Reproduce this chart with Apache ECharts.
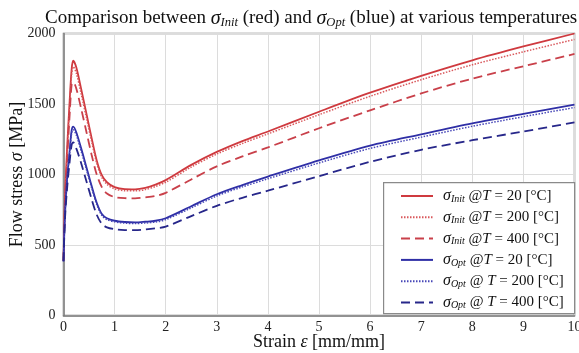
<!DOCTYPE html>
<html>
<head>
<meta charset="utf-8">
<script src="https://cdn.jsdelivr.net/npm/echarts@6/dist/echarts.min.js"></script>
<style>
html,body{margin:0;padding:0;background:#fff;}
#c{width:579px;height:353px;}
</style>
</head>
<body>
<div id="c"></div>
<script>
// Strain values (mm/mm)
var strain = [0, 0.03, 0.07, 0.12, 0.16, 0.19, 0.25, 0.35, 0.45, 0.55, 0.65, 0.75, 0.85, 1.0, 1.2, 1.4, 1.6, 1.8, 2.0, 2.5, 3, 3.5, 4, 5, 6, 7, 8, 9, 10];
// Flow stress (MPa)
var init20  = [390, 850, 1180, 1520, 1750, 1807, 1760, 1600, 1430, 1260, 1100, 995, 945, 910, 896, 895, 905, 928, 960, 1068, 1160, 1237, 1305, 1445, 1580, 1700, 1810, 1908, 2000];
var init200 = [390, 830, 1150, 1480, 1710, 1765, 1720, 1565, 1400, 1235, 1080, 980, 930, 898, 885, 884, 893, 915, 945, 1053, 1145, 1220, 1288, 1424, 1555, 1672, 1778, 1870, 1958];
var init400 = [390, 800, 1100, 1420, 1640, 1655, 1610, 1460, 1300, 1140, 1000, 910, 865, 840, 832, 831, 838, 848, 870, 965, 1058, 1128, 1192, 1328, 1455, 1575, 1680, 1768, 1855];
var opt20   = [385, 720, 960, 1170, 1315, 1340, 1300, 1180, 1050, 920, 800, 720, 690, 672, 663, 660, 665, 672, 690, 775, 860, 925, 985, 1100, 1205, 1285, 1362, 1430, 1495];
var opt200  = [385, 710, 945, 1150, 1295, 1318, 1280, 1160, 1033, 905, 788, 710, 680, 664, 655, 652, 656, 663, 680, 763, 848, 912, 970, 1082, 1185, 1265, 1342, 1410, 1475];
var opt400  = [385, 690, 900, 1090, 1210, 1228, 1185, 1075, 950, 825, 715, 650, 625, 612, 606, 605, 610, 618, 630, 705, 778, 835, 885, 988, 1090, 1175, 1243, 1305, 1370];
var xTicks = [0, 1, 2, 3, 4, 5, 6, 7, 8, 9, 10];
var yTicks = [0, 500, 1000, 1500, 2000];

var seriesNames = ['Init20', 'Init200', 'Init400', 'Opt20', 'Opt200', 'Opt400'];
var legendText = {
  Init20:  '{s|σ}{sub|Init}{t| @}{it|T}{t| = 20 [°C]}',
  Init200: '{s|σ}{sub|Init}{t| @}{it|T}{t| = 200 [°C]}',
  Init400: '{s|σ}{sub|Init}{t| @}{it|T}{t| = 400 [°C]}',
  Opt20:   '{s|σ}{sub|Opt}{t| @}{it|T}{t| = 20 [°C]}',
  Opt200:  '{s|σ}{sub|Opt}{t| @ }{it|T}{t| = 200 [°C]}',
  Opt400:  '{s|σ}{sub|Opt}{t| @ }{it|T}{t| = 400 [°C]}'
};

function pairs(v){ return strain.map(function(x,i){ return [x, v[i]]; }); }

var FONT = '"Liberation Serif", "DejaVu Serif", serif';
var RED = '#cf3a3f', RED2 = '#d9585c', RED3 = '#c9404a';
var BLUE = '#2f2fa6', BLUE2 = '#4747b8', BLUE3 = '#27278a';

var richBase = function(size, subSize, subPad){
  return {
    t:  {fontFamily: FONT, fontSize: size, fontWeight: 'normal', color: '#111'},
    it: {fontFamily: FONT, fontSize: size, fontWeight: 'normal', fontStyle: 'italic', color: '#111'},
    s:  {fontFamily: FONT, fontSize: size + 1, fontWeight: 'normal', fontStyle: 'italic', color: '#111'},
    sub:{fontFamily: FONT, fontSize: subSize, fontWeight: 'normal', fontStyle: 'italic', color: '#111', padding: [subPad, 0, 0, 0]}
  };
};

function mk(name, data, color, width, type){
  return {
    name: name, type: 'line', data: pairs(data), showSymbol: false, symbol: 'none',
    smooth: 0.3,
    lineStyle: {color: color, width: width, type: type},
    itemStyle: {color: color}
  };
}

var chart = echarts.init(document.getElementById('c'), null, {renderer: 'canvas'});
chart.setOption({
  animation: false,
  backgroundColor: '#fff',
  title: {
    text: '{t|Comparison between }{s|σ}{sub|Init}{t| (red) and }{s|σ}{sub|Opt}{t| (blue) at various temperatures}',
    left: 40, top: 3,
    textStyle: {fontWeight: 'normal', rich: richBase(19, 12.5, 8)}
  },
  grid: {left: 63.5, right: 4.5, top: 33.5, bottom: 37.5, outerBoundsMode: 'none', containLabel: false,
    show: true, borderColor: '#7a7a7a', borderWidth: 1.5, backgroundColor: 'transparent'},
  xAxis: {
    type: 'value', min: 0, max: 10, interval: 1,
    name: '{t|Strain }{it|ε}{t| [mm/mm]}', nameLocation: 'middle', nameGap: 18, nameMoveOverlap: false,
    nameTextStyle: {rich: richBase(18, 12, 6)},
    axisLine: {show: true, lineStyle: {color: '#7a7a7a', width: 1.5}},
    axisTick: {show: false},
    axisLabel: {fontFamily: FONT, fontSize: 14, color: '#222', margin: 5,
      formatter: function(v){ return xTicks.indexOf(v) >= 0 ? String(v) : ''; }},
    splitLine: {show: true, lineStyle: {color: '#dcdcdc', width: 1}}
  },
  yAxis: {
    type: 'value', min: 0, max: 2000, interval: 500,
    name: '{t|Flow stress }{it|σ}{t| [MPa]}', nameLocation: 'middle', nameGap: 37, nameRotate: 90, nameMoveOverlap: false,
    nameTextStyle: {rich: richBase(18, 12, 6)},
    axisLine: {show: true, lineStyle: {color: '#7a7a7a', width: 1.5}},
    axisTick: {show: false},
    axisLabel: {fontFamily: FONT, fontSize: 14, color: '#222', margin: 8,
      formatter: function(v){ return yTicks.indexOf(v) >= 0 ? String(v) : ''; }},
    splitLine: {show: true, lineStyle: {color: '#dcdcdc', width: 1}}
  },
  graphic: [{
    type: 'rect', z: 3, left: 383, top: 182,
    shape: {width: 191, height: 131},
    style: {fill: '#fff', stroke: '#8a8a8a', lineWidth: 1.2}
  }],
  legend: {
    orient: 'vertical', left: 395, top: 183, z: 5,
    itemWidth: 32, itemHeight: 14, itemGap: 5.3,
    data: seriesNames,
    itemStyle: {opacity: 0},
    formatter: function(n){ return legendText[n]; },
    textStyle: {padding: [0, 0, 0, 5], lineHeight: 14, rich: richBase(15, 10, 6)}
  },
  series: [
    mk('Init20', init20, RED, 1.8, 'solid'),
    mk('Init200', init200, RED2, 1.5, [1.5, 1.5]),
    mk('Init400', init400, RED3, 1.8, [9, 5]),
    mk('Opt20', opt20, BLUE, 1.8, 'solid'),
    mk('Opt200', opt200, BLUE2, 1.5, [1.5, 1.5]),
    mk('Opt400', opt400, BLUE3, 1.8, [9, 5])
  ]
});
</script>
</body>
</html>
